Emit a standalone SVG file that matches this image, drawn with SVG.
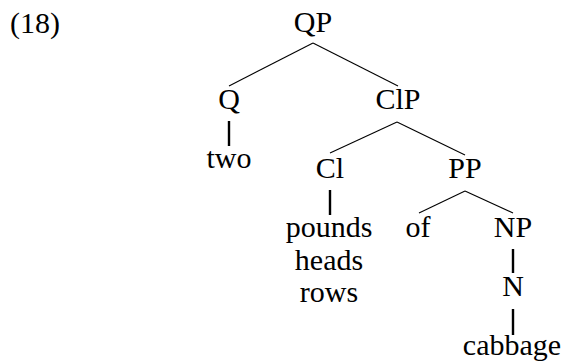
<svg xmlns="http://www.w3.org/2000/svg" width="563" height="362" viewBox="0 0 563 362">
  <style>
    text { font-family: 'Liberation Serif', 'Times New Roman', serif; font-size: 30px; fill: #000; text-anchor: middle; }
    .edge { stroke: #000; stroke-width: 1.1; fill: none; }
    .unary { stroke: #000; stroke-width: 2.4; fill: none; }
  </style>
  <rect width="563" height="362" fill="#fff"/>
  <text x="35" y="33">(18)</text>

  <g id="connectors">
    <line class="edge" x1="313" y1="43" x2="229" y2="86"/>
    <line class="edge" x1="313" y1="43" x2="398" y2="86"/>
    <line class="unary" x1="229" y1="121" x2="229" y2="146"/>
    <line class="edge" x1="397" y1="122" x2="330" y2="153"/>
    <line class="edge" x1="397" y1="122" x2="465" y2="155"/>
    <line class="unary" x1="330" y1="190" x2="330" y2="215"/>
    <line class="edge" x1="465" y1="191" x2="419" y2="213"/>
    <line class="edge" x1="465" y1="191" x2="513" y2="213"/>
    <line class="unary" x1="513" y1="249" x2="513" y2="273"/>
    <line class="unary" x1="513" y1="309" x2="513" y2="335"/>
  </g>

  <g id="QP"><text x="313" y="32">QP</text></g>
  <g id="Q"><text x="229" y="109">Q</text></g>
  <g id="two"><text x="229" y="168">two</text></g>
  <g id="ClP"><text x="398" y="109">ClP</text></g>
  <g id="Cl"><text x="330" y="178">Cl</text></g>
  <g id="Cl-words">
    <text x="329" y="237">pounds</text>
    <text x="329" y="270">heads</text>
    <text x="329" y="302">rows</text>
  </g>
  <g id="PP"><text x="465" y="178">PP</text></g>
  <g id="of"><text x="418" y="237">of</text></g>
  <g id="NP"><text x="513" y="237">NP</text></g>
  <g id="N"><text x="513" y="296">N</text></g>
  <g id="cabbage"><text x="512" y="355">cabbage</text></g>
</svg>
